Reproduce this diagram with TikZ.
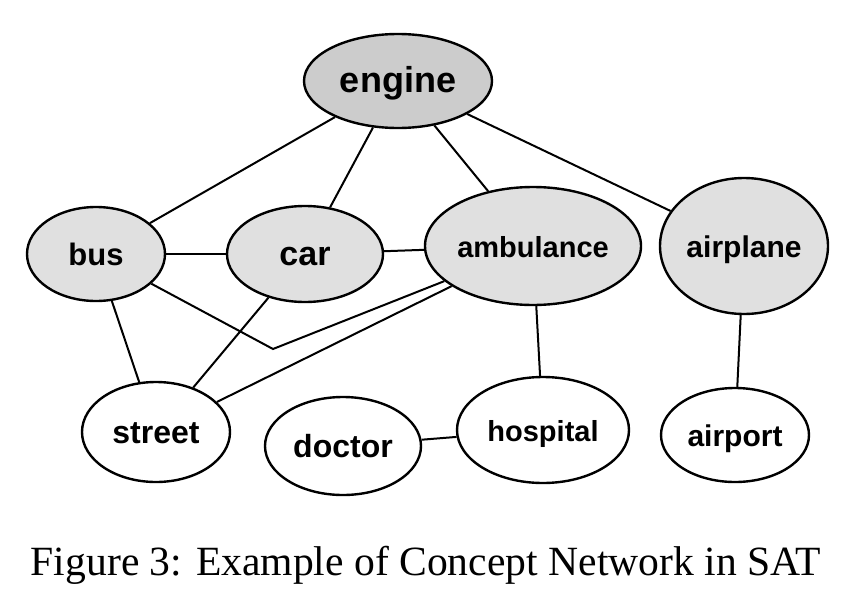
\documentclass[tikz,border=0pt]{standalone}
\usepackage{fontspec}
\setmainfont{Liberation Serif}
\setsansfont{Liberation Sans}
\usetikzlibrary{shapes.geometric}
\newcommand{\fsz}[1]{\fontsize{#1}{#1}\selectfont}

\begin{document}
\begin{tikzpicture}[x=1pt,y=-1pt,
  concept/.style={ellipse, draw, line width=2.4pt, inner sep=0pt, text height=23pt, text depth=0pt},
  hot/.style={concept, fill=black!20},
  warm/.style={concept, fill=black!12},
  cold/.style={concept, fill=white},
  link/.style={line width=2pt}]
\useasboundingbox (0,0) rectangle (848,602);
% concepts
\node[hot, minimum width=188pt, minimum height=94pt, font=\sffamily\bfseries\fsz{36}] (engine) at (398,81) {engine};
\node[warm, minimum width=138pt, minimum height=94pt, font=\sffamily\bfseries\fsz{31}] (bus) at (96,254) {bus};
\node[warm, minimum width=156pt, minimum height=96pt, font=\sffamily\bfseries\fsz{34}] (car) at (305,254) {car};
\node[warm, minimum width=216pt, minimum height=118pt, font=\sffamily\bfseries\fsz{29}] (ambulance) at (533,246) {ambulance};
\node[warm, minimum width=168pt, minimum height=136pt, font=\sffamily\bfseries\fsz{30}] (airplane) at (744,246) {airplane};
\node[cold, minimum width=148pt, minimum height=100pt, font=\sffamily\bfseries\fsz{32}] (street) at (156,432) {street};
\node[cold, minimum width=156pt, minimum height=98pt, font=\sffamily\bfseries\fsz{32}] (doctor) at (343,446) {doctor};
\node[cold, minimum width=172pt, minimum height=106pt, font=\sffamily\bfseries\fsz{29}] (hospital) at (543,430) {hospital};
\node[cold, minimum width=148pt, minimum height=94pt, font=\sffamily\bfseries\fsz{30}] (airport) at (735,435) {airport};
\coordinate (kink) at (273,349);
% links
\draw[link] (engine) -- (bus);
\draw[link] (engine) -- (car);
\draw[link] (engine) -- (ambulance);
\draw[link] (engine) -- (airplane);
\draw[link] (bus) -- (car);
\draw[link] (car) -- (ambulance);
\draw[link] (bus) -- (kink) -- (ambulance);
\draw[link] (bus) -- (street);
\draw[link] (car) -- (street);
\draw[link] (ambulance) -- (street);
\draw[link] (ambulance) -- (hospital);
\draw[link] (doctor) -- (hospital);
\draw[link] (airplane) -- (airport);
% caption
\node[anchor=base, font=\fsz{41.6}] (caption) at (426,575) {Figure 3: Example of Concept Network in SAT};
\end{tikzpicture}
\end{document}
